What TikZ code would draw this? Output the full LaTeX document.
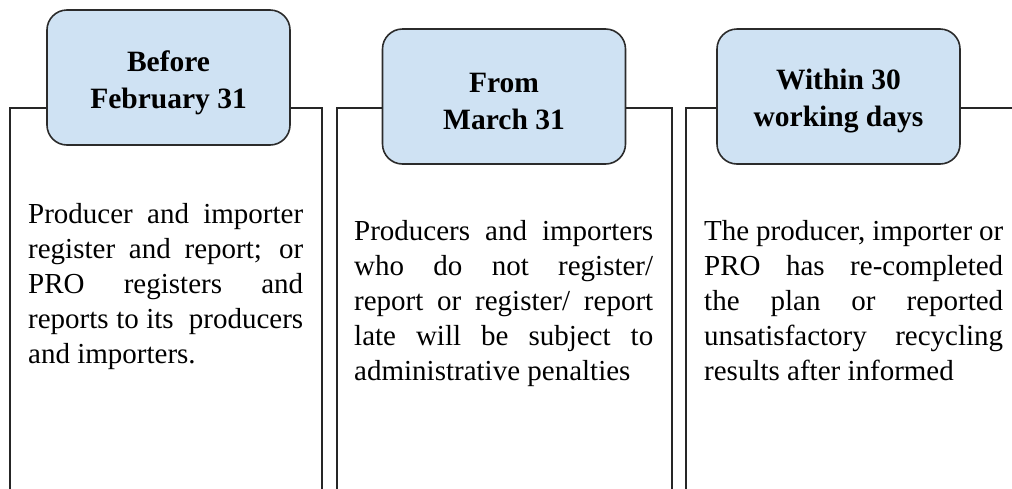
\documentclass[tikz,border=0pt]{standalone}
\usepackage{fontspec}
\setmainfont{Liberation Serif}
\definecolor{hdrfill}{HTML}{CFE2F3}
\definecolor{hdrline}{HTML}{2B2B2B}
\definecolor{frameline}{HTML}{262626}
\hyphenpenalty=10000
\exhyphenpenalty=10000
\hbadness=10000
\begin{document}
\begin{tikzpicture}[x=1pt,y=-1pt,
  header/.style={draw=hdrline, line width=1.6pt, fill=hdrfill, rounded corners=20pt,
    minimum width=243pt, minimum height=135pt, inner sep=0pt},
  hdrtext/.style={inner sep=0pt, align=center,
    font=\fontsize{29.5}{37}\selectfont\bfseries},
  body/.style={anchor=base west, inner sep=0pt, align=justify,
    font=\fontsize{29}{35}\selectfont},
  frame/.style={draw=frameline, line width=1.3pt}]
\useasboundingbox (0,0) rectangle (1012,488);
\begin{scope}
\clip (0,0) rectangle (1012,488);

% column headers
\node[header] (h1) at (168.5,77.5) {};
\node[header] (h2) at (504,96.5) {};
\node[header] (h3) at (838.5,96.5) {};
\node[hdrtext] (h1t) at ([yshift=-5pt]h1.center) {Before\\February 31};
\node[hdrtext] (h2t) at ([yshift=-5pt]h2.center) {From\\March 31};
\node[hdrtext] (h3t) at ([yshift=-5pt]h3.center) {Within 30\\working days};

% corners of the open column frames
\coordinate (c1l) at (10,108);  \coordinate (c1lb) at (10,500);
\coordinate (c1r) at (322,108); \coordinate (c1rb) at (322,500);
\coordinate (c2l) at (337,108); \coordinate (c2lb) at (337,500);
\coordinate (c2r) at (672,108); \coordinate (c2rb) at (672,500);
\coordinate (c3l) at (686,108); \coordinate (c3lb) at (686,500);
\coordinate (c3r) at (1030,108);

\draw[frame] (h1.west |- c1l) -- (c1l) -- (c1lb);
\draw[frame] (h1.east |- c1r) -- (c1r) -- (c1rb);
\draw[frame] (h2.west |- c2l) -- (c2l) -- (c2lb);
\draw[frame] (h2.east |- c2r) -- (c2r) -- (c2rb);
\draw[frame] (h3.west |- c3l) -- (c3l) -- (c3lb);
\draw[frame] (h3.east |- c3r) -- (c3r);

% column texts
\node[body, text width=275pt] (t1) at (28,223)
  {Producer and importer\linebreak register and report; or\linebreak PRO registers and\linebreak reports to its~ producers\linebreak and importers.};
\node[body, text width=299pt] (t2) at (354,240)
  {Producers and importers\linebreak who do not register/\linebreak report or register/ report\linebreak late will be subject to\linebreak administrative penalties};
\node[body, text width=299pt] (t3) at (704,240)
  {The producer, importer or\linebreak PRO has re-completed\linebreak the plan or reported\linebreak unsatisfactory recycling\linebreak results after informed};
\end{scope}
\end{tikzpicture}
\end{document}
